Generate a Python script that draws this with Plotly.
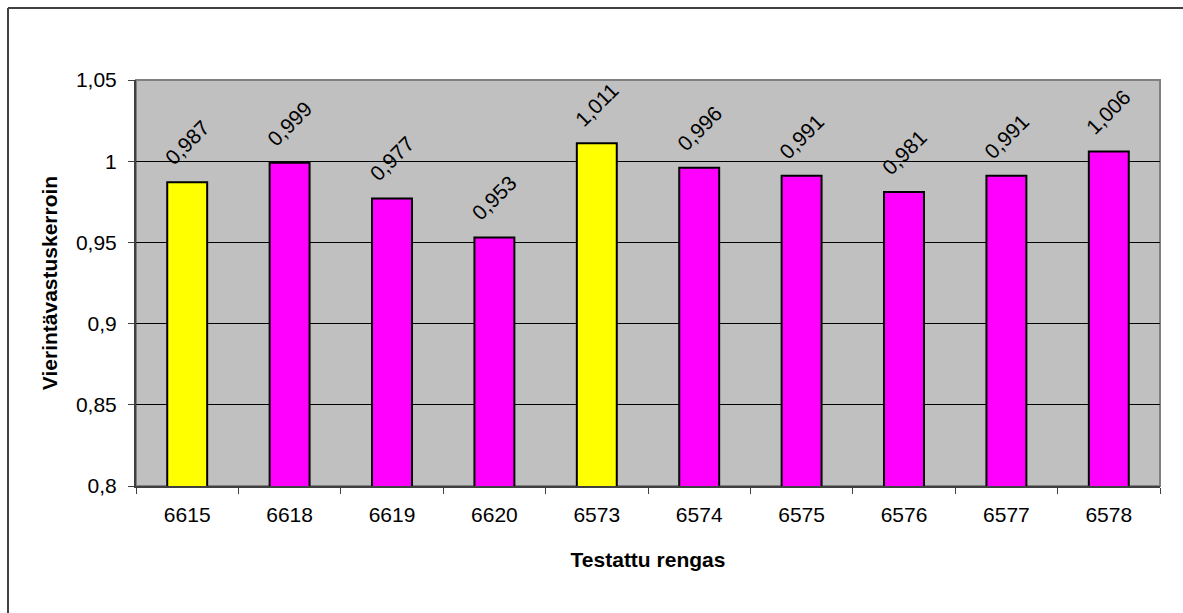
import plotly.graph_objects as go

# Rolling resistance coefficient per tested tyre
tyres = ["6615", "6618", "6619", "6620", "6573", "6574", "6575", "6576", "6577", "6578"]
coefficients = [0.987, 0.999, 0.977, 0.953, 1.011, 0.996, 0.991, 0.981, 0.991, 1.006]
bar_colors = ["#FFFF00", "#FF00FF", "#FF00FF", "#FF00FF", "#FFFF00",
              "#FF00FF", "#FF00FF", "#FF00FF", "#FF00FF", "#FF00FF"]
y_ticks = [0.8, 0.85, 0.9, 0.95, 1.0, 1.05]

FONT = "Liberation Sans, Arial, sans-serif"

fig = go.Figure()
fig.add_trace(go.Bar(
    x=tyres,
    y=coefficients,
    marker=dict(color=bar_colors, line=dict(color="black", width=2)),
    width=0.39,
    cliponaxis=False,
    showlegend=False,
))

# Rotated value labels above each bar (x given as category index)
for i, v in enumerate(coefficients):
    fig.add_annotation(
        x=i, y=v, text=f"{v:.3f}".replace(".", ","),
        textangle=-45, showarrow=False,
        xanchor="center", yanchor="bottom", yshift=10,
        font=dict(family=FONT, size=21, color="black"),
    )

# Plot-area frame (top/right in grey)
fig.add_shape(type="rect", xref="paper", yref="paper", x0=0, x1=1, y0=0, y1=1,
              line=dict(color="#808080", width=2), layer="below")
# Outer chart border
fig.add_shape(type="line", xref="paper", yref="paper",
              x0=-0.125, x1=1.05, y0=1.1773, y1=1.1773,
              line=dict(color="#404040", width=2))
fig.add_shape(type="line", xref="paper", yref="paper",
              x0=-0.125, x1=-0.125, y0=1.1773, y1=-0.35,
              line=dict(color="#404040", width=2))

fig.update_layout(
    width=1183, height=613,
    margin=dict(l=136, r=23, t=80, b=127),
    paper_bgcolor="white",
    plot_bgcolor="#C0C0C0",
    separators=", ",
    font=dict(family=FONT, size=21, color="black"),
    xaxis=dict(
        type="category",
        range=[-0.5, len(tyres) - 0.5],
        showline=True, linecolor="#404040", linewidth=2,
        ticks="outside", tickson="boundaries", ticklen=6, tickcolor="#404040",
        tickfont=dict(size=21),
        tickangle=0,
        ticklabelstandoff=9,
        showgrid=False,
        title=dict(text="<b>Testattu rengas</b>", font=dict(size=21), standoff=27),
    ),
    yaxis=dict(
        range=[0.8, 1.05],
        tickvals=y_ticks,
        showline=True, linecolor="#404040", linewidth=2,
        ticks="outside", ticklen=6, tickcolor="#404040",
        tickfont=dict(size=21),
        ticklabelstandoff=7,
        showgrid=True, gridcolor="black", gridwidth=1,
        zeroline=False,
        title=dict(text="<b>Vierintävastuskerroin</b>", font=dict(size=21), standoff=13),
    ),
)

fig.write_html("out.html")
